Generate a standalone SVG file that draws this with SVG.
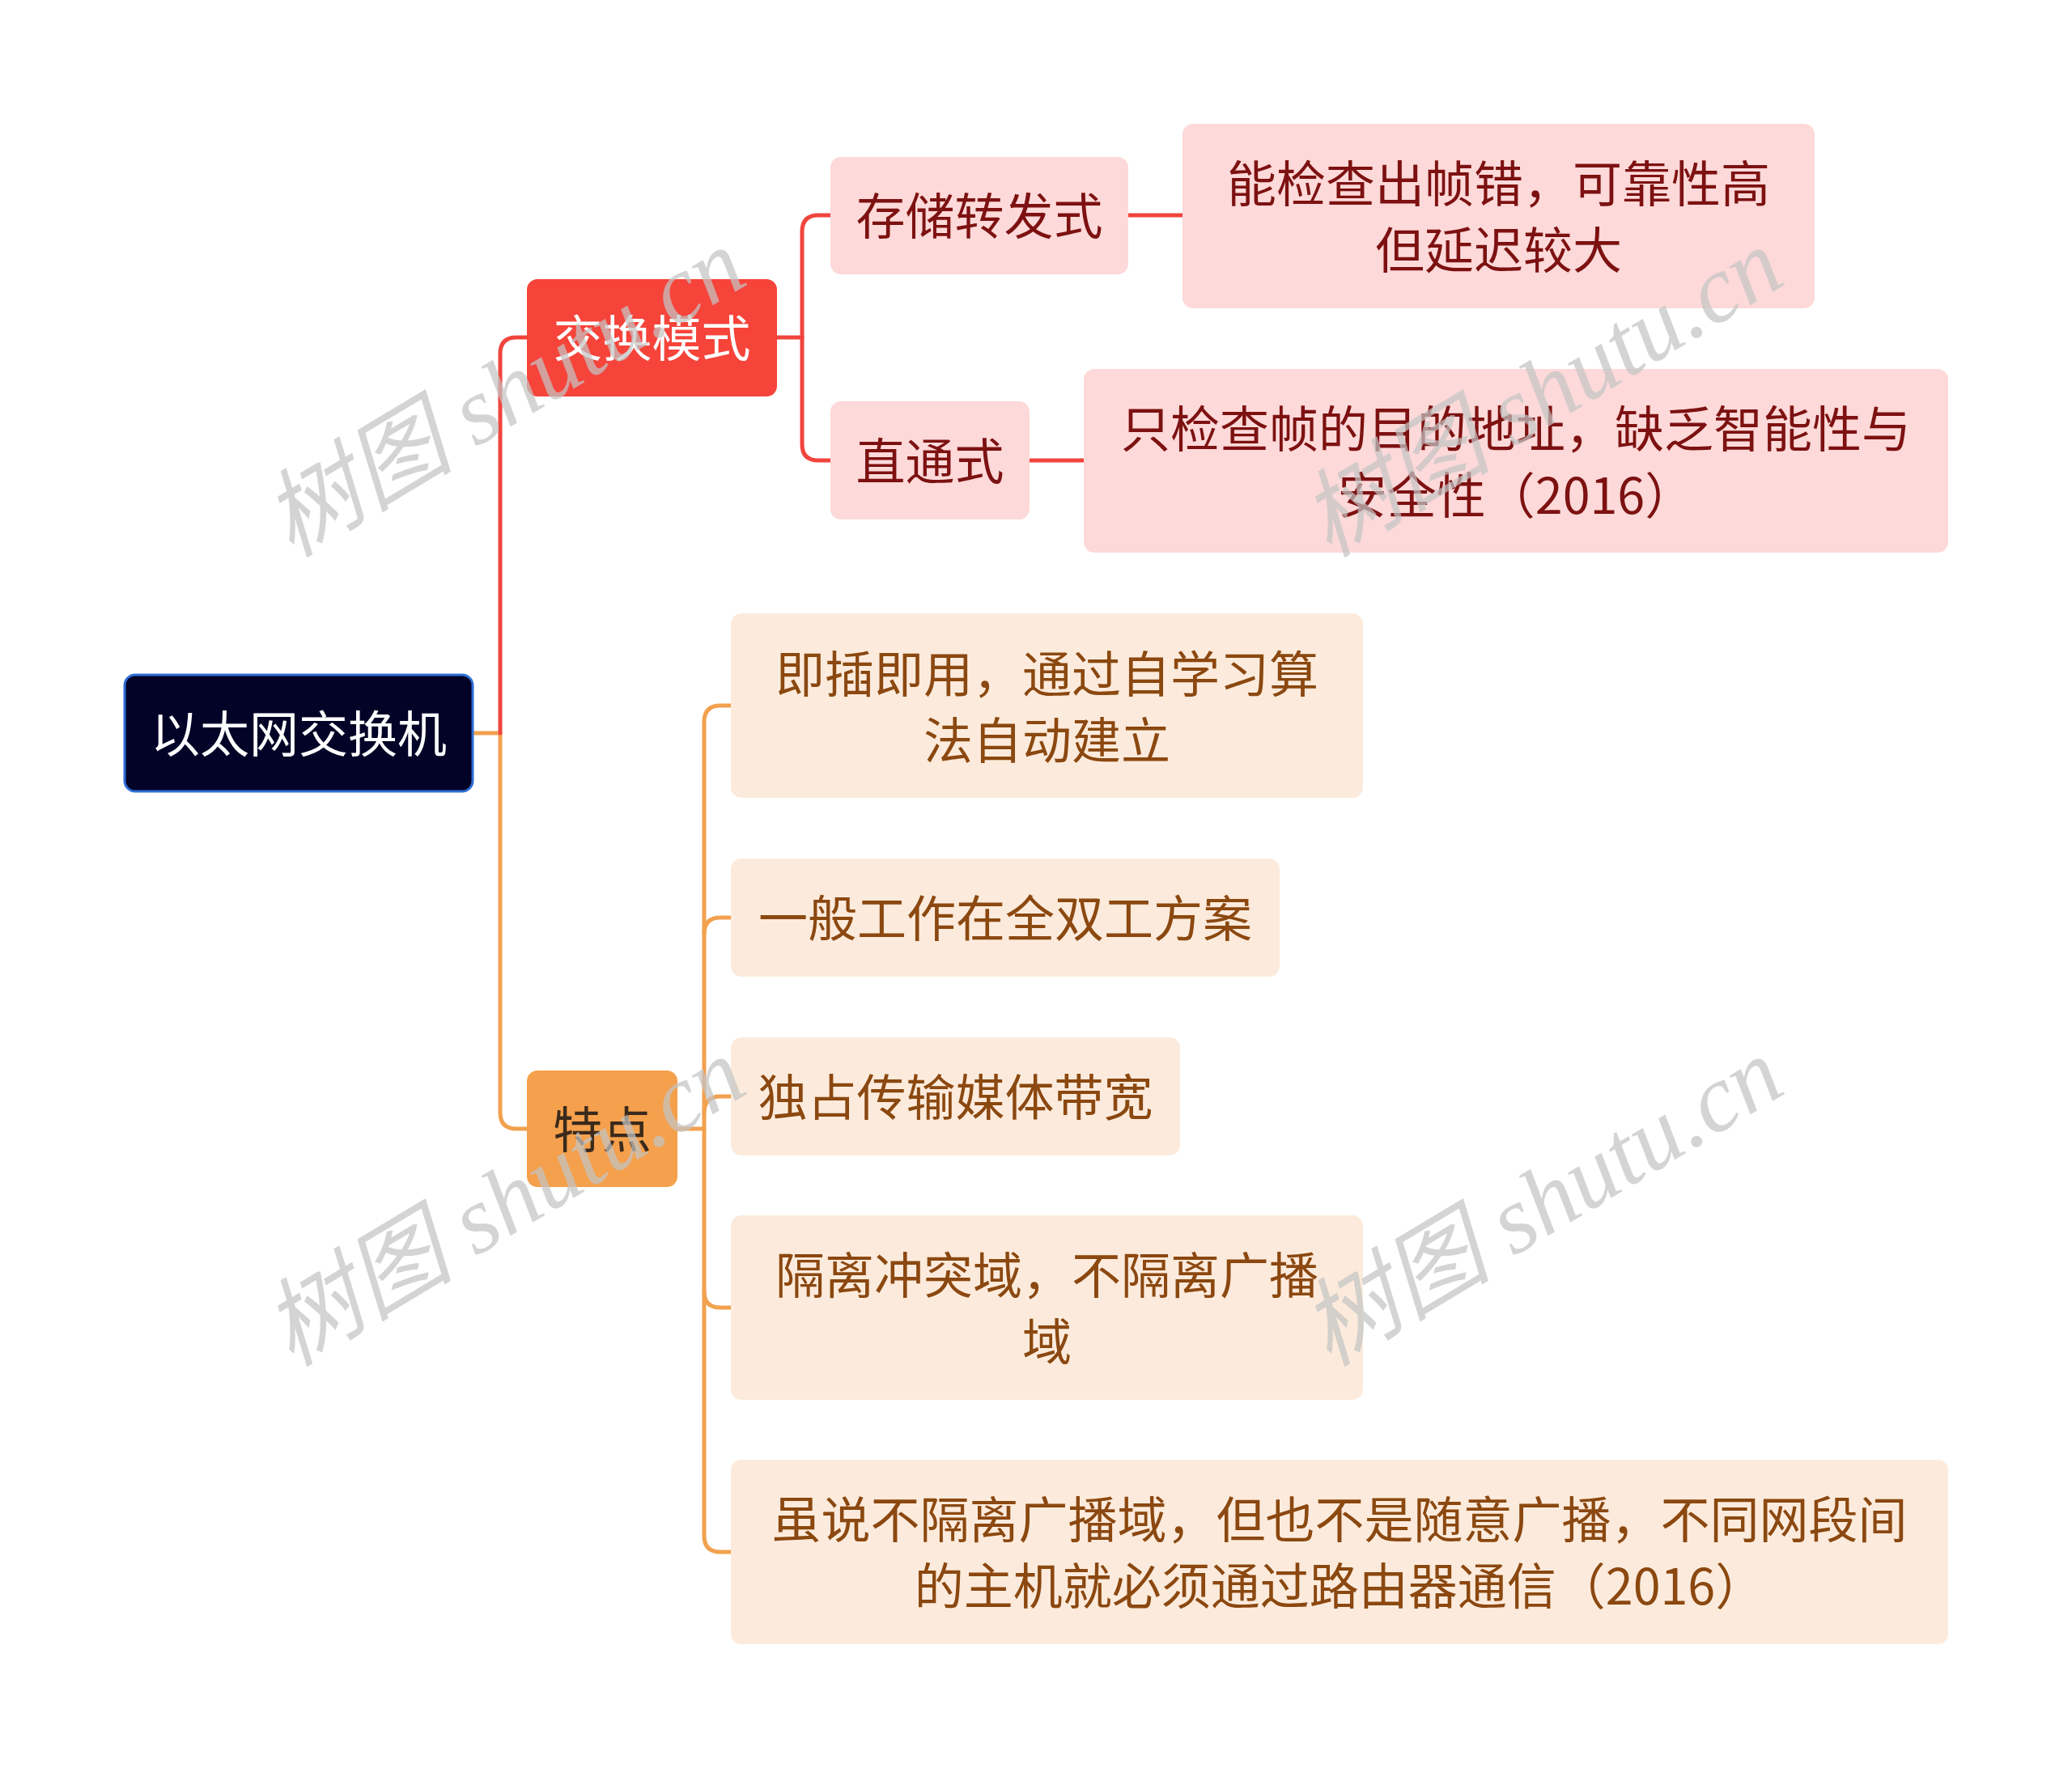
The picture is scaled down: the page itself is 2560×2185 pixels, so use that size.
<svg xmlns="http://www.w3.org/2000/svg" width="2560" height="2185" viewBox="0 0 2560 2185">
<style>
text{font-family:"Noto Sans CJK SC","Noto Sans",sans-serif;font-size:61px;text-anchor:middle;dominant-baseline:central}
.c{fill:none;stroke-width:5;stroke-linecap:round;stroke-linejoin:round}
.cr{stroke:#f0453d}
.co{stroke:#f2a14e}
.rk{fill:#fdd9d9}
.rt{fill:#7d1111}
.ok{fill:#fcebdc}
.ot{fill:#8b4810}
.wm{font-family:"Liberation Serif","Noto Sans CJK SC",serif;font-style:italic;font-size:118px;fill:#c4c4c4;fill-opacity:0.72;text-anchor:start;dominant-baseline:alphabetic}
</style>
<rect width="2560" height="2185" fill="#ffffff"/>
<g id="connectors">
<path class="c co" d="M585,906 H618 V1375 Q618,1395 638,1395 H651"/>
<path class="c cr" d="M618,906 V437 Q618,417 638,417 H651"/>
<path class="c cr" d="M960,417 H991"/>
<path class="c cr" d="M1026,266 H1011 Q991,266 991,286 V549 Q991,569 1011,569 H1026"/>
<path class="c cr" d="M1394,266 H1461"/>
<path class="c cr" d="M1272,569 H1339"/>
<path class="c co" d="M837,1395 H870"/>
<path class="c co" d="M903,872 H890 Q870,872 870,892 V1898 Q870,1918 890,1918 H903"/>
<path class="c co" d="M870,1154 Q870,1134 890,1134 H903"/>
<path class="c co" d="M870,1375 Q870,1355 890,1355 H903"/>
<path class="c co" d="M870,1596 Q870,1616 890,1616 H903"/>
</g>
<g id="root">
<rect x="154" y="834" width="430" height="144" rx="13" fill="#020326" stroke="#2f6fd6" stroke-width="3"/>
<text x="369" y="903" fill="#ffffff">以太网交换机</text>
</g>
<g id="n-mode">
<rect x="651" y="345" width="309" height="145" rx="13" fill="#f6443b"/>
<text x="805.5" y="414" fill="#ffffff">交换模式</text>
</g>
<g id="n-store">
<rect x="1026" y="194" width="368" height="145" rx="13" class="rk"/>
<text x="1210" y="263" class="rt">存储转发式</text>
</g>
<g id="n-store-desc">
<rect x="1461" y="153" width="781" height="228" rx="13" class="rk"/>
<text x="1851.5" y="223" class="rt">能检查出帧错，可靠性高</text>
<text x="1851.5" y="305" class="rt">但延迟较大</text>
</g>
<g id="n-cut">
<rect x="1026" y="496" width="246" height="146" rx="13" class="rk"/>
<text x="1149" y="566" class="rt">直通式</text>
</g>
<g id="n-cut-desc">
<rect x="1339" y="456" width="1068" height="227" rx="13" class="rk"/>
<text x="1873" y="526" class="rt">只检查帧的目的地址，缺乏智能性与</text>
<text x="1873" y="608" class="rt">安全性（2016）</text>
</g>
<g id="n-feat">
<rect x="651" y="1323" width="186" height="144" rx="13" fill="#f5a04c"/>
<text x="744" y="1392" fill="#3a2a1c">特点</text>
</g>
<g id="f1">
<rect x="903" y="758" width="781" height="228" rx="13" class="ok"/>
<text x="1293.5" y="829" class="ot">即插即用，通过自学习算</text>
<text x="1293.5" y="911" class="ot">法自动建立</text>
</g>
<g id="f2">
<rect x="903" y="1061" width="678" height="146" rx="13" class="ok"/>
<text x="1242" y="1131" class="ot">一般工作在全双工方案</text>
</g>
<g id="f3">
<rect x="903" y="1282" width="555" height="146" rx="13" class="ok"/>
<text x="1180.5" y="1352" class="ot">独占传输媒体带宽</text>
</g>
<g id="f4">
<rect x="903" y="1502" width="781" height="228" rx="13" class="ok"/>
<text x="1293.5" y="1572" class="ot">隔离冲突域，不隔离广播</text>
<text x="1293.5" y="1654" class="ot">域</text>
</g>
<g id="f5">
<rect x="903" y="1804" width="1504" height="228" rx="13" class="ok"/>
<text x="1655" y="1874" class="ot">虽说不隔离广播域，但也不是随意广播，不同网段间</text>
<text x="1655" y="1956" class="ot">的主机就必须通过路由器通信（2016）</text>
</g>
<g id="watermarks">
<text class="wm" transform="translate(360,690) rotate(-31)">树图 shutu.cn</text>
<text class="wm" transform="translate(1642,690) rotate(-31)">树图 shutu.cn</text>
<text class="wm" transform="translate(360,1690) rotate(-31)">树图 shutu.cn</text>
<text class="wm" transform="translate(1642,1690) rotate(-31)">树图 shutu.cn</text>
</g>
</svg>
